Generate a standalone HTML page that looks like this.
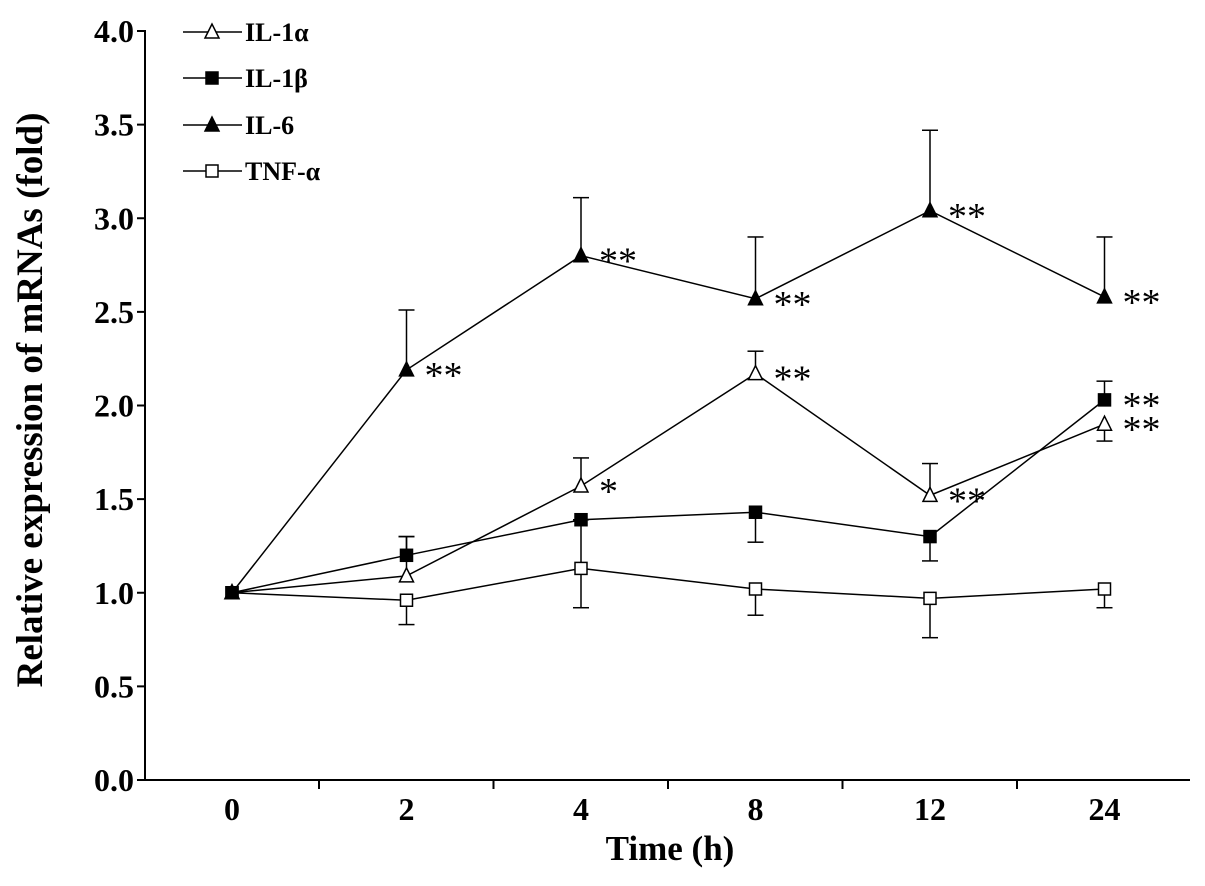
<!DOCTYPE html>
<html><head><meta charset="utf-8"><style>
body{margin:0;background:#fff}
svg text{font-family:"Liberation Serif",serif;font-weight:bold;fill:#000}
</style></head><body>
<svg id="chart" width="1205" height="881" viewBox="0 0 1205 881" xmlns="http://www.w3.org/2000/svg"></svg>
<script>
const categories=["0","2","4","8","12","24"];
const yTicks=[0,0.5,1,1.5,2,2.5,3,3.5,4];
const il1a=[1.0,1.09,1.57,2.17,1.52,1.90];
const il1aErr=[0,0.21,0.15,0.12,0.17,-0.09];
const il1aStars=["","","*","**","**","**"];
const il1b=[1.0,1.20,1.39,1.43,1.30,2.03];
const il1bErr=[0,0.10,0,-0.16,-0.13,0.10];
const il1bStars=["","","","","","**"];
const il6=[1.0,2.19,2.80,2.57,3.04,2.58];
const il6Err=[0,0.32,0.31,0.33,0.43,0.32];
const il6Stars=["","**","**","**","**","**"];
const tnf=[1.0,0.96,1.13,1.02,0.97,1.02];
const tnfErr=[0,-0.13,-0.21,-0.14,-0.21,-0.10];
const tnfErrUp=[0,0,0.26,0,0,0];

const svg=document.getElementById('chart');
const NS='http://www.w3.org/2000/svg';
function el(t,a,p){const e=document.createElementNS(NS,t);for(const k in a)e.setAttribute(k,a[k]);(p||svg).appendChild(e);return e;}
const X=i=>232+i*174.5;
const Y=v=>780-v*187.25;

let ax=el('line',{x1:145,y1:780,x2:1190,y2:780,stroke:'#000','stroke-width':2});


ax=el('line',{x1:145,y1:780,x2:145,y2:30,stroke:'#000','stroke-width':2});


yTicks.forEach(v=>{
  el('line',{x1:137,y1:Y(v),x2:145,y2:Y(v),stroke:'#000','stroke-width':2});
  const t=el('text',{x:134,y:Y(v)+11,'text-anchor':'end','font-size':32});
  t.textContent=v.toFixed(1);
  
  
});
for(let i=0;i<categories.length-1;i++){el('line',{x1:X(i)+87,y1:780,x2:X(i)+87,y2:789,stroke:'#000','stroke-width':2});}
categories.forEach((c,i)=>{
  const t=el('text',{x:X(i),y:820,'text-anchor':'middle','font-size':32});
  t.textContent=c;
  
  
});
let t=el('text',{x:670,y:860,'text-anchor':'middle','font-size':35});
t.textContent='Time (h)';


t=el('text',{x:0,y:0,'text-anchor':'middle','font-size':37,transform:'translate(42,400) rotate(-90)'});
t.textContent='Relative expression of mRNAs (fold)';



function marker(type,x,y,g){
  if(type==='tri-open'||type==='tri-fill')el('polygon',{points:`${x},${y-8} ${x-7},${y+6} ${x+7},${y+6}`,fill:type==='tri-fill'?'#000':'#fff',stroke:'#000','stroke-width':1.5},g);
  else el('rect',{x:x-6,y:y-6,width:12,height:12,fill:type==='sq-fill'?'#000':'#fff',stroke:'#000','stroke-width':1.5},g);
}
function series(name,vals,err,errUp,stars,type){
  const g=el('g',{});
  
  
  vals.forEach((v,i)=>{
    const es=[err[i]]; if(errUp&&errUp[i])es.push(errUp[i]);
    es.forEach(e=>{if(!e)return;
      el('line',{x1:X(i),y1:Y(v),x2:X(i),y2:Y(v+e),stroke:'#000','stroke-width':1.5},g);
      el('line',{x1:X(i)-8,y1:Y(v+e),x2:X(i)+8,y2:Y(v+e),stroke:'#000','stroke-width':1.5},g);});
  });
  el('polyline',{points:vals.map((v,i)=>X(i)+','+Y(v)).join(' '),fill:'none',stroke:'#000','stroke-width':1.5},g);
  vals.forEach((v,i)=>marker(type,X(i),Y(v),g));
  stars.forEach((s,i)=>{if(!s)return;const st=el('text',{x:X(i)+18,y:Y(vals[i])+18,'font-size':38},g);st.style.fontWeight='normal';st.textContent=s;});
}
series('tnf-alpha',tnf,tnfErr,tnfErrUp,["","","","","",""],'sq-open');
series('il-1beta',il1b,il1bErr,null,il1bStars,'sq-fill');
series('il-1alpha',il1a,il1aErr,null,il1aStars,'tri-open');
series('il-6',il6,il6Err,null,il6Stars,'tri-fill');

const legend=[["IL-1α",'tri-open',32],["IL-1β",'sq-fill',78],["IL-6",'tri-fill',125],["TNF-α",'sq-open',171]];
legend.forEach(([lab,type,y])=>{
  const g=el('g',{});
  
  
  el('line',{x1:183,y1:y,x2:242,y2:y,stroke:'#000','stroke-width':1.5},g);
  marker(type,212,y,g);
  const tt=el('text',{x:245,y:y+9,'font-size':26},g);tt.textContent=lab;
});
</script>
</body></html>
